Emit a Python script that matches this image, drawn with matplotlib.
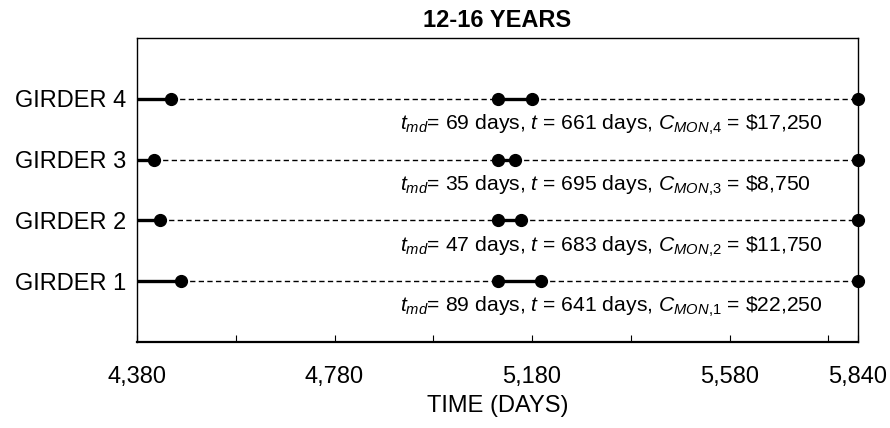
import matplotlib
matplotlib.use("Agg")
import matplotlib.pyplot as plt

plt.rcParams['font.family'] = ['Liberation Sans', 'DejaVu Sans']
plt.rcParams['mathtext.fontset'] = 'custom'
plt.rcParams['mathtext.rm'] = 'Liberation Sans'
plt.rcParams['mathtext.it'] = 'Liberation Sans:italic'
plt.rcParams['mathtext.bf'] = 'Liberation Sans:bold'

# Data
girders = ["GIRDER 1", "GIRDER 2", "GIRDER 3", "GIRDER 4"]
girder_ids = [1, 2, 3, 4]
t_md = [89, 47, 35, 69]          # monitoring duration (days)
t_gap = [641, 683, 695, 661]     # time between monitorings (days)
cost = ["22,250", "11,750", "8,750", "17,250"]
start_day = 4380
end_day = 5840
tick_vals = [4380, 4580, 4780, 4980, 5180, 5380, 5580, 5780, 5840]
tick_labels = ["4,380", "", "4,780", "", "5,180", "", "5,580", "", "5,840"]

fig = plt.figure(figsize=(8.9, 4.28), dpi=100)
ax = fig.add_axes([137/890, 1 - 342/428, (858-137)/890, (342-38)/428])

fs = 17
for gid, y, md, gap, c in zip(girder_ids, [1, 2, 3, 4], t_md, t_gap, cost):
    a1 = start_day + md
    b0 = a1 + gap
    b1 = b0 + md
    # dashed base
    ax.plot([a1, b0], [y, y], color='black', lw=1.0, dashes=(3.8, 2.4), zorder=2)
    ax.plot([b1, end_day], [y, y], color='black', lw=1.0, dashes=(3.8, 2.4), zorder=2)
    # solid monitoring segments
    ax.plot([start_day, a1], [y, y], color='black', lw=2.4, solid_capstyle='butt', zorder=3)
    ax.plot([b0, b1], [y, y], color='black', lw=2.4, solid_capstyle='butt', zorder=3)
    # markers
    ax.plot([a1, b0, b1, end_day], [y, y, y, y], 'o', color='black', ms=8.5,
            zorder=4, clip_on=False)
    txt = (r"$t_{md}$= %d days, $t$ = %d days, $C_{MON{,}%d}$ = \$%s"
           % (md, gap, gid, c))
    ax.text(4912, y - 0.43, txt, fontsize=15.2, ha='left', va='center')

ax.set_xlim(start_day, end_day)
ax.set_ylim(0, 5)
ax.set_xticks(tick_vals)
ax.set_xticklabels(tick_labels, fontsize=fs)
ax.set_yticks([1, 2, 3, 4])
ax.set_yticklabels(girders, fontsize=fs)
ax.tick_params(axis='x', direction='in', length=5, width=0.8, pad=17)
ax.tick_params(axis='y', length=0, pad=8)
for s in ax.spines.values():
    s.set_linewidth(1.0)
ax.spines['bottom'].set_linewidth(1.6)

ax.set_xlabel("TIME (DAYS)", fontsize=fs, labelpad=5)
ax.set_title("12-16 YEARS", fontsize=17, fontweight='bold', pad=8)

fig.savefig("out.png", dpi=100)
